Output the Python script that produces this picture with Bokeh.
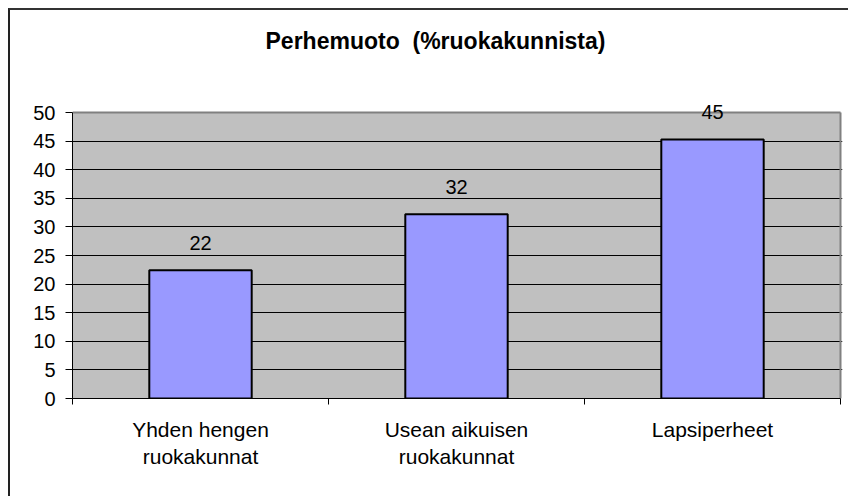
from bokeh.plotting import figure
from bokeh.models import (ColumnDataSource, FixedTicker, Range1d, LabelSet, Label, BoxAnnotation)
from bokeh.core.properties import value
from bokeh.embed import file_html
from bokeh.resources import INLINE

# ---- data ----
title_text = "Perhemuoto\u00a0\u00a0(%ruokakunnista)"
categories = ["Yhden hengen\nruokakunnat", "Usean aikuisen\nruokakunnat", "Lapsiperheet"]
values = [22.4, 32.2, 45.3]
value_labels = ["22", "32", "45"]
y_ticks = [0, 5, 10, 15, 20, 25, 30, 35, 40, 45, 50]

FONT = "Liberation Sans"

n = len(categories)
centers = [i + 0.5 for i in range(n)]
bounds = [float(i) for i in range(n + 1)]

y_min, y_max = y_ticks[0], y_ticks[-1]
px_per_unit = 286 / (y_max - y_min)      # plot area 286 px tall
extra_top = 92 / px_per_unit             # space above plot area for title/labels
extra_right = 2 / 256.0                  # room for right border line

p = figure(width=840, height=488, output_backend="svg", toolbar_location=None,
           x_range=Range1d(0, n + extra_right), y_range=Range1d(y_min, y_max + extra_top),
           min_border_left=62, min_border_right=8, min_border_top=10, min_border_bottom=100)
p.styles = {"border-top": "2px solid #333333", "border-left": "2px solid #222222",
            "margin-top": "8px", "margin-left": "8px"}
p.background_fill_color = "white"
p.border_fill_color = "white"
p.outline_line_color = None

# gray plot area
p.add_layout(BoxAnnotation(left=0, right=n, bottom=y_min, top=y_max, level="image",
                           fill_color="#C0C0C0", fill_alpha=1.0, line_color=None))

src = ColumnDataSource(dict(x=centers, top=values, lab=value_labels))
p.vbar(x="x", top="top", bottom=0, width=0.4, source=src,
       fill_color="#9999FF", line_color="black", line_width=2)

# grid
p.xgrid.visible = False
p.ygrid.ticker = FixedTicker(ticks=y_ticks[:-1])
p.ygrid.grid_line_color = "black"
p.ygrid.grid_line_width = 1
p.ygrid.bounds = (0, n)
p.ygrid.level = "underlay"

# y axis
ya = p.yaxis[0]
ya.ticker = FixedTicker(ticks=y_ticks)
ya.bounds = (y_min, y_max)
ya.axis_line_color = "black"
ya.major_tick_line_color = "black"
ya.major_tick_out = 7
ya.major_tick_in = 0
ya.minor_tick_line_color = None
ya.major_label_text_font = FONT
ya.major_label_text_font_size = "20px"
ya.major_label_text_color = "black"
ya.major_label_standoff = 10

# x axis
xa = p.xaxis[0]
xa.ticker = FixedTicker(ticks=centers, minor_ticks=bounds)
xa.bounds = (0, n)
xa.axis_line_color = "black"
xa.major_tick_line_color = None
xa.major_tick_out = 0
xa.major_tick_in = 0
xa.minor_tick_line_color = "black"
xa.minor_tick_out = 6
xa.minor_tick_in = 0
xa.major_label_overrides = {c: lab for c, lab in zip(centers, categories)}
xa.major_label_text_font = FONT
xa.major_label_text_font_size = "21px"
xa.major_label_text_color = "black"
xa.major_label_standoff = 13

# plot-area border top/right (gray)
p.segment(x0=[0, n], y0=[y_max, y_min], x1=[n, n], y1=[y_max, y_max],
          line_color="#808080", line_width=2)

# value labels
p.add_layout(LabelSet(x="x", y="top", text="lab", source=src, y_offset=20,
                      text_align="center", text_baseline="alphabetic",
                      text_font=value(FONT), text_font_size=value("20px"), text_color="black"))

# title
p.add_layout(Label(x=363, y=358, x_units="screen", y_units="screen", text=title_text,
                   text_align="center", text_baseline="alphabetic",
                   text_font=FONT, text_font_size="23px", text_font_style="bold",
                   text_color="black"))

open("out.html", "w").write(file_html(p, INLINE))
